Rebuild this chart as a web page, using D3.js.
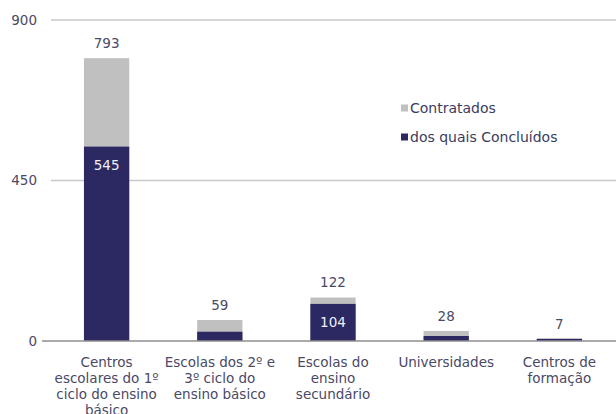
<!DOCTYPE html>
<html>
<head>
<meta charset="utf-8">
<script src="https://cdn.jsdelivr.net/npm/d3@7"></script>
<style>
  body { margin: 0; background: #fff; }
  svg text { font-family: "DejaVu Sans", sans-serif; }
</style>
</head>
<body>
<div id="chart"></div>
<script>
// categories (line breaks as in the original labels)
const categories = [
  'Centros\nescolares do 1º\nciclo do ensino\nbásico',
  'Escolas dos 2º e\n3º ciclo do\nensino básico',
  'Escolas do\nensino\nsecundário',
  'Universidades',
  'Centros de\nformação'
];
const contratados = [793, 59, 122, 28, 7];
const concluidos = [545, 26, 104, 14, 6];
const seriesNames = ['Contratados', 'dos quais Concluídos'];
const yTicks = [0, 450, 900];

const width = 616, height = 414;
const margin = { top: 20, right: 0, bottom: 73, left: 50 };

const DARK = '#2b2862';
const GREY = '#c0c0c0';
const TEXT = '#4a4966';

const svg = d3.select('#chart').append('svg')
  .attr('width', width).attr('height', height);

const x = d3.scaleBand()
  .domain(d3.range(categories.length))
  .range([margin.left, width - margin.right])
  .paddingInner(0.6)
  .paddingOuter(0.3);

const y = d3.scaleLinear()
  .domain([0, 900])
  .range([height - margin.bottom, margin.top]);

// gridlines
svg.append('g')
  .selectAll('line')
  .data(yTicks.filter(d => d > 0))
  .join('line')
  .attr('x1', margin.left + 1).attr('x2', width)
  .attr('y1', d => y(d)).attr('y2', d => y(d))
  .attr('stroke', '#c8c8c8').attr('stroke-width', 1.5);

// y axis labels
const yAxis = d3.axisLeft(y).tickValues(yTicks).tickSize(0).tickPadding(13);
svg.append('g')
  .attr('transform', `translate(${margin.left},0)`)
  .call(yAxis)
  .call(g => g.select('.domain').remove())
  .selectAll('text')
  .attr('font-size', 13.5)
  .attr('fill', TEXT);

// contratados (grey, full height)
svg.append('g')
  .selectAll('rect')
  .data(contratados)
  .join('rect')
  .attr('x', (d, i) => x(i))
  .attr('width', x.bandwidth())
  .attr('y', d => y(d))
  .attr('height', d => y(0) - y(d))
  .attr('fill', GREY);

// concluidos (dark)
svg.append('g')
  .selectAll('rect')
  .data(concluidos)
  .join('rect')
  .attr('x', (d, i) => x(i))
  .attr('width', x.bandwidth())
  .attr('y', d => y(d))
  .attr('height', d => y(0) - y(d))
  .attr('fill', DARK);

// zero line
svg.append('line')
  .attr('x1', margin.left - 8).attr('x2', width)
  .attr('y1', y(0)).attr('y2', y(0))
  .attr('stroke', '#8e8e8e').attr('stroke-width', 1.5);

// total labels above bars
svg.append('g')
  .selectAll('text')
  .data(contratados)
  .join('text')
  .attr('x', (d, i) => x(i) + x.bandwidth() / 2)
  .attr('y', d => y(d) - 10)
  .attr('text-anchor', 'middle')
  .attr('font-size', 13.5)
  .attr('fill', TEXT)
  .text(d => d);

// inside labels for big dark bars
svg.append('g')
  .selectAll('text')
  .data(concluidos.map((v, i) => ({ v, i })).filter(d => d.v > 60))
  .join('text')
  .attr('x', d => x(d.i) + x.bandwidth() / 2)
  .attr('y', d => y(d.v) + 23)
  .attr('text-anchor', 'middle')
  .attr('font-size', 13.5)
  .attr('fill', '#f0f0f6')
  .text(d => d.v);

// category labels
const xAxis = svg.append('g');
categories.forEach((c, i) => {
  const t = xAxis.append('text')
    .attr('x', x(i) + x.bandwidth() / 2)
    .attr('y', y(0) + 26)
    .attr('text-anchor', 'middle')
    .attr('font-size', 13.5)
    .attr('fill', TEXT);
  c.split('\n').forEach((line, j) => {
    t.append('tspan')
      .attr('x', x(i) + x.bandwidth() / 2)
      .attr('dy', j === 0 ? 0 : 16)
      .text(line);
  });
});

// legend
const legend = svg.append('g').attr('transform', 'translate(401,108)');
legend.selectAll('g')
  .data(seriesNames)
  .join('g')
  .attr('transform', (d, i) => `translate(0,${i * 29})`)
  .each(function(d, i) {
    const g = d3.select(this);
    g.append('rect')
      .attr('x', 0).attr('y', -3.5)
      .attr('width', 7).attr('height', 7)
      .attr('fill', i === 0 ? GREY : DARK);
    g.append('text')
      .attr('x', 9).attr('y', 0)
      .attr('dy', '0.35em')
      .attr('font-size', 14)
      .attr('fill', '#3c3b5e')
      .text(d);
  });
</script>
</body>
</html>
